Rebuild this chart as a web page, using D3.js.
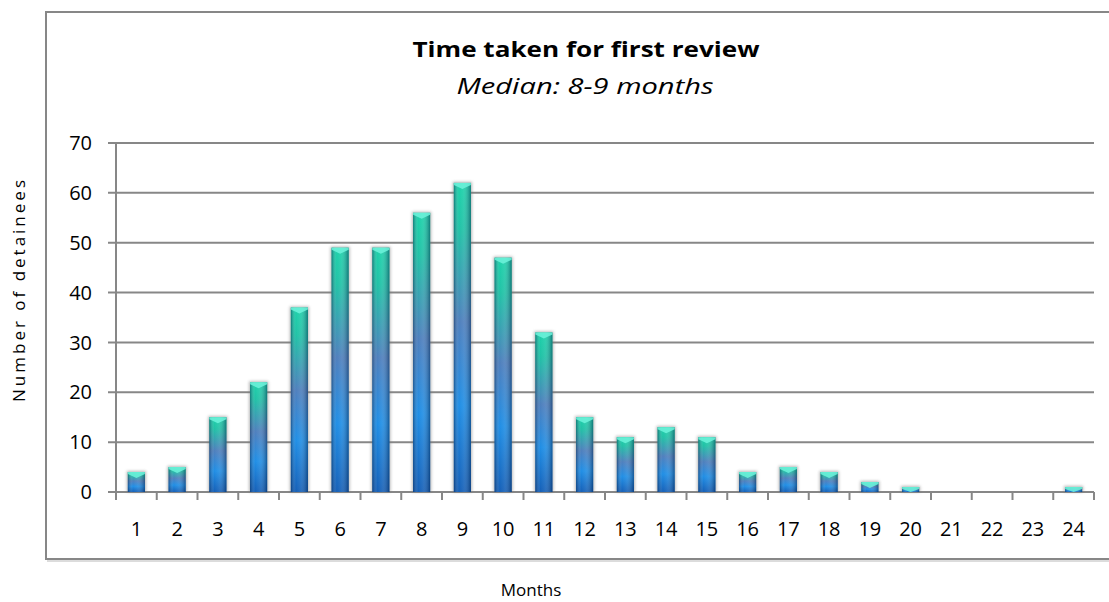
<!DOCTYPE html>
<html>
<head>
<meta charset="utf-8">
<script src="https://cdn.jsdelivr.net/npm/d3@7"></script>
<style>
body{margin:0;background:#fff}
svg{display:block}
text{font-family:"Open Sans",sans-serif;fill:#000}
</style>
</head>
<body>
<div id="chart"></div>
<script>
'use strict'
// data
const months=["1","2","3","4","5","6","7","8","9","10","11","12","13","14","15","16","17","18","19","20","21","22","23","24"]
const detainees=[4,5,15,22,37,49,49,56,62,47,32,15,11,13,11,4,5,4,2,1,0,0,0,1]
const yTicks=[0,10,20,30,40,50,60,70]
const chartTitle="Time taken for first review"
const chartSubtitle="Median: 8-9 months"
const xTitle="Months"
const yTitle="Number of detainees"

let width=1109
let height=602
let margin={top:143,right:15,bottom:110,left:116}
let gridColor="#878787"

let svg=d3.select("#chart").append("svg").attr("width",width).attr("height",height)
let defs=svg.append("defs")

let body=defs.append("linearGradient").attr("id","barBody").attr("x1",0).attr("y1",0).attr("x2",0).attr("y2",1)
body.append("stop").attr("offset","0%").attr("stop-color","#12cfa6")
body.append("stop").attr("offset","15%").attr("stop-color","#16bfa2")
body.append("stop").attr("offset","45%").attr("stop-color","#4679ba")
body.append("stop").attr("offset","72%").attr("stop-color","#1589e4")
body.append("stop").attr("offset","100%").attr("stop-color","#0a58b4")

let shade=defs.append("linearGradient").attr("id","barShade").attr("x1",0).attr("y1",0).attr("x2",1).attr("y2",0)
shade.append("stop").attr("offset","0%").attr("stop-color","#001a40").attr("stop-opacity",0.45)
shade.append("stop").attr("offset","30%").attr("stop-color","#ffffff").attr("stop-opacity",0.05)
shade.append("stop").attr("offset","55%").attr("stop-color","#ffffff").attr("stop-opacity",0.12)
shade.append("stop").attr("offset","100%").attr("stop-color","#001a40").attr("stop-opacity",0.45)

let blur=defs.append("filter").attr("id","soft").attr("x","-50%").attr("y","-50%").attr("width","200%").attr("height","200%")
blur.append("feGaussianBlur").attr("stdDeviation",1.6)

// outer frame
svg.append("rect").attr("x",46).attr("y",12).attr("width",1070).attr("height",547)
  .attr("fill","none").attr("stroke",gridColor).attr("stroke-width",2)
svg.append("line").attr("x1",47).attr("x2",1109).attr("y1",561).attr("y2",561).attr("stroke","#d0d0d0").attr("stroke-width",1.5)

let x=d3.scaleBand().domain(months).range([margin.left,width-margin.right]).paddingInner(0.58).paddingOuter(0.29)
let xb=d3.scaleBand().domain(months).range([margin.left,width-margin.right])
let y=d3.scaleLinear().domain([0,70]).range([height-margin.bottom,margin.top])

// gridlines
svg.append("g").selectAll("line").data(yTicks).enter().append("line")
  .attr("x1",margin.left-8).attr("x2",width-margin.right)
  .attr("y1",d=>y(d)).attr("y2",d=>y(d))
  .attr("stroke",gridColor).attr("stroke-width",2)

// y axis line
svg.append("line").attr("x1",margin.left).attr("x2",margin.left).attr("y1",y(70)).attr("y2",y(0)+8)
  .attr("stroke",gridColor).attr("stroke-width",2)

// x ticks between categories
let bounds=months.map(m=>xb(m)).concat([width-margin.right])
svg.append("g").selectAll("line").data(bounds).enter().append("line")
  .attr("x1",d=>d).attr("x2",d=>d).attr("y1",y(0)).attr("y2",y(0)+8)
  .attr("stroke",gridColor).attr("stroke-width",2)

// bars
let bg=svg.append("g")
detainees.forEach(function(v,i){
  if(v<=0)return
  let x0=x(months[i]),w=x.bandwidth(),y0=y(v),h=y(0)-y(v)
  bg.append("rect").attr("x",x0-1).attr("y",y0-1).attr("width",w+2).attr("height",h+1)
    .attr("fill","#7a7a7a").attr("opacity",0.55).attr("filter","url(#soft)")
  bg.append("rect").attr("x",x0).attr("y",y0).attr("width",w).attr("height",h).attr("fill","url(#barBody)")
  bg.append("rect").attr("x",x0).attr("y",y0).attr("width",w).attr("height",h).attr("fill","url(#barShade)")
  let c=Math.min(6,h)
  bg.append("path")
    .attr("d","M"+x0+","+y0+"H"+(x0+w)+"V"+(y0+Math.min(2,h))+"L"+(x0+w/2)+","+(y0+c)+"L"+x0+","+(y0+Math.min(2,h))+"Z")
    .attr("fill","#6ff3dc").attr("opacity",0.85)
})

// y tick labels
svg.append("g").selectAll("text").data(yTicks).enter().append("text")
  .attr("x",92).attr("y",d=>y(d)).attr("dy","0.36em").attr("text-anchor","end")
  .style("font-size","20px").text(d=>d)

// x tick labels
svg.append("g").selectAll("text").data(months).enter().append("text")
  .attr("x",d=>xb(d)+xb.bandwidth()/2).attr("y",536).attr("text-anchor","middle")
  .style("font-size","20px").text(d=>d)

// titles
svg.append("text").attr("x",586).attr("y",57).attr("text-anchor","middle")
  .style("font-size","22px").style("font-weight","bold")
  .attr("textLength",347).attr("lengthAdjust","spacingAndGlyphs").text(chartTitle)
svg.append("text").attr("x",585).attr("y",94).attr("text-anchor","middle")
  .style("font-size","22px").style("font-style","italic")
  .attr("textLength",257).attr("lengthAdjust","spacingAndGlyphs").text(chartSubtitle)
svg.append("text").attr("x",531).attr("y",596).attr("text-anchor","middle")
  .style("font-size","17px").text(xTitle)
svg.append("text").attr("transform","translate(25,291)rotate(-90)").attr("text-anchor","middle")
  .style("font-size","17px").attr("textLength",222).attr("lengthAdjust","spacing").text(yTitle)
</script>
</body>
</html>
